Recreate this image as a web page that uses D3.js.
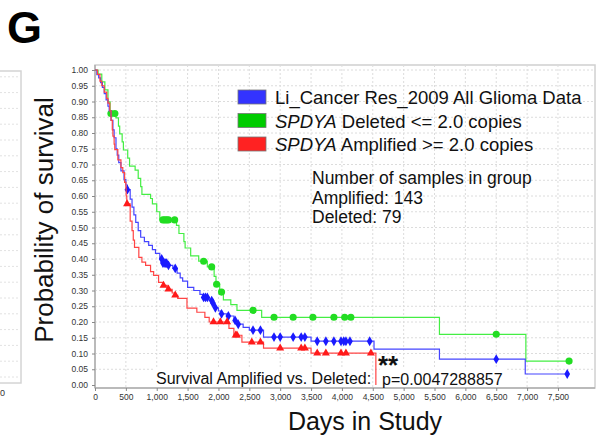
<!DOCTYPE html>
<html>
<head>
<meta charset="utf-8">
<script src="https://cdn.jsdelivr.net/npm/d3@7"></script>
<style>
  body { margin: 0; background: #fff; }
  svg { display: block; font-family: "Liberation Sans", Arial, sans-serif; }
</style>
</head>
<body>
<script>
// x ticks (days) and y ticks (probability)
const xTicks = [0, 500, 1000, 1500, 2000, 2500, 3000, 3500, 4000, 4500, 5000, 5500, 6000, 6500, 7000, 7500];
const yTicks = [0, 0.05, 0.1, 0.15, 0.2, 0.25, 0.3, 0.35, 0.4, 0.45, 0.5, 0.55, 0.6, 0.65, 0.7, 0.75, 0.8, 0.85, 0.9, 0.95, 1.0];

// Kaplan-Meier steps: [day, survival after that day]
const allSteps = [[0,1],[30,0.985],[60,0.975],[90,0.96],[120,0.945],[150,0.925],[180,0.905],[210,0.885],[230,0.87],
  [260,0.84],[290,0.81],[310,0.785],[340,0.75],[360,0.73],[385,0.706],[420,0.68],[470,0.652],[500,0.635],[525,0.62],
  [570,0.59],[600,0.565],[630,0.54],[660,0.516],[700,0.49],[740,0.469],[800,0.455],[870,0.443],[930,0.43],[980,0.418],
  [1050,0.4],[1100,0.387],[1180,0.38],[1260,0.37],[1330,0.355],[1380,0.34],[1420,0.33],[1500,0.31],[1600,0.3],
  [1700,0.288],[1750,0.278],[1850,0.268],[1900,0.26],[1940,0.245],[2000,0.235],[2040,0.226],[2140,0.219],[2250,0.205],
  [2300,0.193],[2400,0.183],[2500,0.174],[2730,0.152],[3500,0.139],[4520,0.114],[5580,0.082],[6970,0.035]];
const allEnd = 7650;
const allCensor = [525,1080,1100,1120,1140,1160,1190,1300,1760,1790,1820,1890,1910,1950,2050,2160,2270,2320,2560,2680,
  2900,3000,3210,3340,3400,3600,3740,3870,3985,4030,4065,4130,4450,6500,7650];

const delSteps = [[0,1],[50,0.987],[110,0.962],[160,0.937],[210,0.899],[245,0.862],[340,0.848],[380,0.822],[400,0.797],
  [440,0.772],[460,0.746],[530,0.72],[560,0.695],[650,0.682],[700,0.656],[740,0.63],[760,0.605],[900,0.592],[930,0.575],
  [1000,0.55],[1050,0.524],[1320,0.507],[1360,0.481],[1440,0.455],[1460,0.435],[1550,0.41],[1680,0.393],[1820,0.375],
  [1930,0.345],[1960,0.32],[2020,0.295],[2080,0.27],[2200,0.255],[2300,0.237],[2700,0.215],[5580,0.161],[6980,0.076]];
const delEnd = 7680;
const delCensor = [258,322,1100,1130,1160,1190,1290,1760,1890,1970,2050,2560,2900,3210,3530,3870,4045,4145,6500,7680];

const ampSteps = [[0,1],[40,0.986],[80,0.965],[110,0.95],[150,0.93],[190,0.91],[210,0.895],[240,0.87],[260,0.84],
  [280,0.81],[290,0.79],[310,0.765],[320,0.747],[370,0.715],[420,0.69],[450,0.674],[480,0.643],[500,0.626],[505,0.6],
  [515,0.575],[570,0.52],[600,0.49],[620,0.46],[640,0.437],[710,0.405],[760,0.39],[820,0.38],[900,0.36],[950,0.348],
  [1030,0.326],[1100,0.316],[1170,0.304],[1250,0.292],[1300,0.285],[1340,0.275],[1490,0.244],[1650,0.231],[1780,0.215],
  [1850,0.2],[2170,0.18],[2250,0.158],[2380,0.136],[2730,0.117],[3500,0.101],[4550,0]];
const ampEnd = 4550;
const ampCensor = [520,1110,1190,1300,1920,2030,2140,2280,2300,2540,2680,3000,3340,3400,3600,3740,3985,4065,4470];

const legendLabels = [
  { gene: "", text: "Li_Cancer Res_2009 All Glioma Data", color: "#3333ff" },
  { gene: "SPDYA", text: " Deleted <= 2.0 copies", color: "#00cc00" },
  { gene: "SPDYA", text: " Amplified >= 2.0 copies", color: "#ff2222" }
];
const noteLines = ["Number of samples in group", "Amplified: 143", "Deleted: 79"];

const width = 604, height = 440;
const svg = d3.select("body").append("svg").attr("width", width).attr("height", height);

const x = d3.scaleLinear().domain([0, 8100]).range([95, 595]);
const y = d3.scaleLinear().domain([0, 1]).range([385, 70]);
const plot = { left: 95, right: 595, top: 65, bottom: 388 };

// partial neighbouring panel on the left
const left = svg.append("g");
left.append("rect").attr("x", -5).attr("y", 71).attr("width", 26).attr("height", 312)
  .attr("fill", "none").attr("stroke", "#d4d4d4").attr("stroke-width", 1.5);
d3.range(0, 20).forEach(i => {
  left.append("line").attr("x1", 0).attr("x2", 20)
    .attr("y1", 377 - i * 15.8).attr("y2", 377 - i * 15.8)
    .attr("stroke", "#e2e2e2").attr("stroke-dasharray", "2,2");
});
svg.append("text").attr("x", 0).attr("y", 396).attr("font-size", 9).attr("fill", "#333").text("0");

// panel letter
svg.append("text").attr("x", 7).attr("y", 43).attr("font-size", 45).attr("font-weight", "bold").text("G");

// plot frame and grid
svg.append("rect").attr("x", plot.left).attr("y", plot.top)
  .attr("width", plot.right - plot.left).attr("height", plot.bottom - plot.top)
  .attr("fill", "#fff").attr("stroke", "#d0d0d0").attr("stroke-width", 1.5);

const grid = svg.append("g");
grid.selectAll(".gx").data(xTicks.slice(1)).enter().append("line")
  .attr("x1", d => x(d)).attr("x2", d => x(d)).attr("y1", plot.top).attr("y2", plot.bottom)
  .attr("stroke", "#dcdcdc").attr("stroke-dasharray", "2,2");
grid.selectAll(".gy").data(yTicks.slice(1)).enter().append("line")
  .attr("x1", plot.left).attr("x2", plot.right).attr("y1", d => y(d)).attr("y2", d => y(d))
  .attr("stroke", "#dcdcdc").attr("stroke-dasharray", "2,2");

// axes
const xAxis = svg.append("g").attr("transform", `translate(0,${plot.bottom})`)
  .call(d3.axisBottom(x).tickValues(xTicks).tickSize(3).tickPadding(3).tickFormat(d3.format(",")));
const yAxis = svg.append("g").attr("transform", `translate(${plot.left},0)`)
  .call(d3.axisLeft(y).tickValues(yTicks).tickSize(3).tickPadding(4).tickFormat(d3.format(".2f")));
[xAxis, yAxis].forEach(a => {
  a.select(".domain").attr("stroke", "#999");
  a.selectAll(".tick line").attr("stroke", "#888");
  a.selectAll(".tick text").attr("fill", "#333").attr("font-size", 8.5)
    .attr("font-family", "'Liberation Sans', Arial, sans-serif");
});
xAxis.select(".domain").attr("d", `M${plot.left},0H${plot.right}`);
yAxis.select(".domain").attr("d", `M0,${plot.top}V${plot.bottom}`);

// legend
legendLabels.forEach((d, i) => {
  const ly = 90 + i * 23.5;
  svg.append("rect").attr("x", 238).attr("y", ly).attr("width", 28).attr("height", 14)
    .attr("fill", d.color).attr("stroke", "#777").attr("stroke-width", 0.8);
  const t = svg.append("text").attr("x", 275).attr("y", ly + 14).attr("font-size", 18.5).attr("fill", "#111");
  if (d.gene) t.append("tspan").attr("font-style", "italic").text(d.gene);
  t.append("tspan").text(d.text);
});

// sample counts
noteLines.forEach((s, i) => {
  svg.append("text").attr("x", 312).attr("y", 184 + i * 19.5).attr("font-size", 17.5).attr("fill", "#111").text(s);
});

// survival curves
function stepValue(steps, t) {
  const i = d3.bisector(d => d[0]).right(steps, t) - 1;
  return steps[Math.max(i, 0)][1];
}
const line = d3.line().x(d => x(d[0])).y(d => y(d[1])).curve(d3.curveStepAfter);

const series = [
  { steps: delSteps, end: delEnd, censor: delCensor, line: "#44ee44", mark: "#22dd22", shape: d3.symbolCircle, size: 40 },
  { steps: allSteps, end: allEnd, censor: allCensor, line: "#4444ff", mark: "#1a1aff", shape: d3.symbolDiamond, size: 28 },
  { steps: ampSteps, end: ampEnd, censor: ampCensor, line: "#ff4444", mark: "#ff1a1a", shape: d3.symbolTriangle, size: 28 }
];

// note boxes sit above the grid but under the curves
svg.append("rect").attr("x", 153).attr("y", 367).attr("width", 218).attr("height", 20).attr("fill", "#fff");
svg.append("rect").attr("x", 380).attr("y", 367).attr("width", 126).attr("height", 20).attr("fill", "#fff");

series.forEach(s => {
  const pts = s.steps.slice();
  const last = pts[pts.length - 1];
  if (s.end > last[0]) pts.push([s.end, last[1]]);
  svg.append("path").datum(pts).attr("d", line)
    .attr("fill", "none").attr("stroke", s.line).attr("stroke-width", 1.2);
  svg.selectAll(null).data(s.censor).enter().append("path")
    .attr("d", d3.symbol().type(s.shape).size(s.size))
    .attr("transform", d => `translate(${x(d)},${y(stepValue(s.steps, d))})`)
    .attr("fill", s.mark);
});

// log-rank annotation
svg.append("text").attr("x", 156).attr("y", 384).attr("font-size", 16).attr("fill", "#111")
  .text("Survival Amplified vs. Deleted:");
svg.append("text").attr("x", 382).attr("y", 385).attr("font-size", 16).attr("fill", "#111")
  .text("p=0.0047288857");
svg.append("text").attr("x", 378).attr("y", 374).attr("font-size", 26).attr("font-weight", "bold").attr("fill", "#111")
  .text("**");

// axis titles
svg.append("text").attr("transform", "translate(53,220) rotate(-90)").attr("text-anchor", "middle")
  .attr("font-size", 26).attr("fill", "#111").text("Probability of survival");
svg.append("text").attr("x", 365).attr("y", 430).attr("text-anchor", "middle")
  .attr("font-size", 25).attr("fill", "#111").text("Days in Study");
</script>
</body>
</html>
